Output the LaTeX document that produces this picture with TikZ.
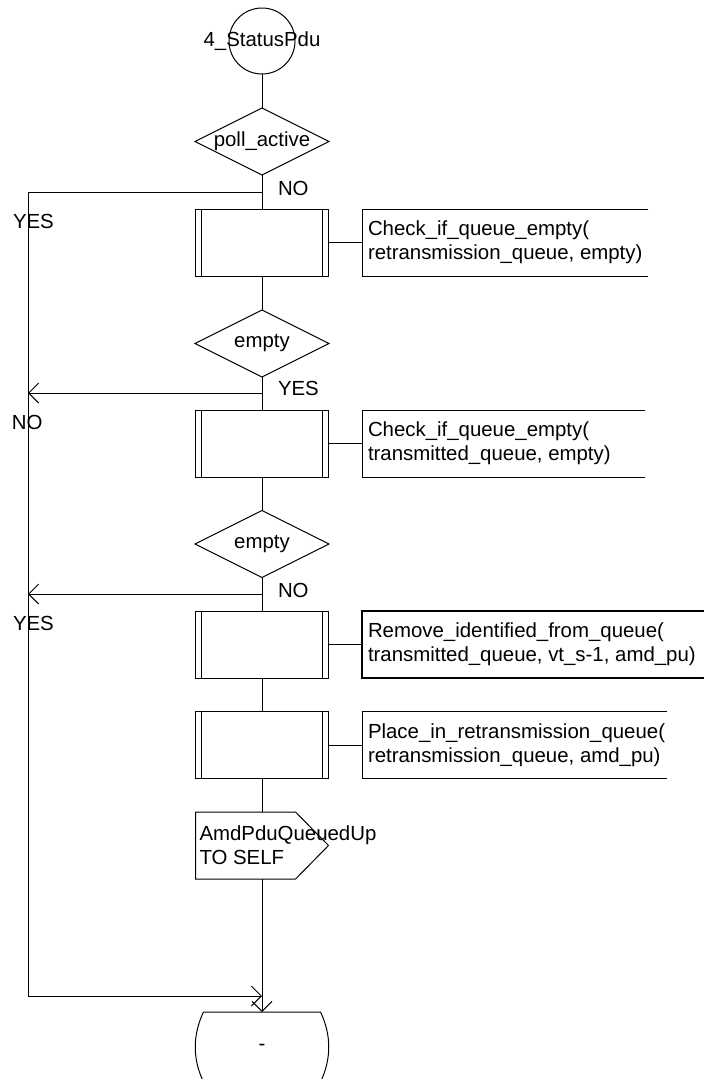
\documentclass[tikz,border=0pt]{standalone}
\usepackage{fontspec}
\setmainfont{Liberation Sans}
\usetikzlibrary{shapes.geometric,arrows.meta}
\begin{document}
\begin{tikzpicture}[x=1pt,y=-1pt,
  every node/.style={font=\fontsize{20.4}{24}\selectfont, inner sep=0pt, outer sep=0pt},
  ln/.style={draw=black, line width=1pt},
  proc/.style={ln, rectangle, minimum width=133pt, minimum height=67pt},
  dec/.style={ln, diamond, minimum width=134pt, minimum height=67pt},
  cmt/.style={anchor=west, align=left, inner xsep=6pt, minimum height=67pt},
  tip/.style={-{Straight Barb[length=10pt,width=20pt]}},
  lbl/.style={anchor=base west},
]
\clip (0,0) rectangle (704,1079);

% main column nodes
\node[ln, circle, minimum size=66pt, label=center:{4\_StatusPdu}] (start) at (262,41) {};
\node[dec, label=center:{poll\_active}] (d1) at (262,141.5) {};
\node[proc] (p1) at (262,242.5) {};
\node[dec, label=center:{empty}] (d2) at (262,343.5) {};
\node[proc] (p2) at (262,443.5) {};
\node[dec, label=center:{empty}] (d3) at (262,544) {};
\node[proc] (p3) at (262,644.5) {};
\node[proc] (p4) at (262,745) {};
\node[minimum width=133pt, minimum height=67pt,
      label={[anchor=west,xshift=4pt,align=left]west:{AmdPduQueuedUp\\TO SELF}}] (sig) at (262,845.5) {};
\node[minimum width=133pt, minimum height=70pt] (term) at (262,1047) {-};

% inner lines of procedure boxes
\foreach \n in {p1,p2,p3,p4}{
  \draw[ln] ([xshift=6pt]\n.north west) -- ([xshift=6pt]\n.south west);
  \draw[ln] ([xshift=-6pt]\n.north east) -- ([xshift=-6pt]\n.south east);
}

% output signal shape
\draw[ln] (sig.north west) -- ([xshift=-33pt]sig.north east) -- (sig.east)
  -- ([xshift=-33pt]sig.south east) -- (sig.south west) -- cycle;

% terminal (state) shape
\draw[ln] ([xshift=8pt]term.north west) -- ([xshift=-8pt]term.north east)
  .. controls ([shift={(3,23)}]term.north east) and ([shift={(3,-23)}]term.south east) .. ([xshift=-8pt]term.south east)
  -- ([xshift=8pt]term.south west)
  .. controls ([shift={(-3,-23)}]term.south west) and ([shift={(-3,23)}]term.north west) .. ([xshift=8pt]term.north west);

% comments
\node[cmt] (c1) at (362,242.5) {Check\_if\_queue\_empty(\\retransmission\_queue, empty)};
\node[cmt] (c2) at (362,443.5) {Check\_if\_queue\_empty(\\transmitted\_queue, empty)};
\node[cmt] (c3) at (362,644.5) {Remove\_identified\_from\_queue(\\transmitted\_queue, vt\_s-1, amd\_pu)};
\node[cmt] (c4) at (362,745) {Place\_in\_retransmission\_queue(\\retransmission\_queue, amd\_pu)};

\draw[ln] ([xshift=286pt]c1.north west) -- (c1.north west) -- (c1.south west) -- ([xshift=286pt]c1.south west);
\draw[ln] ([xshift=283pt]c2.north west) -- (c2.north west) -- (c2.south west) -- ([xshift=283pt]c2.south west);
\draw[ln, line width=2pt] ([xshift=342pt]c3.north west) -- (c3.north west) -- (c3.south west) -- ([xshift=342pt]c3.south west);
\draw[ln] ([xshift=305pt]c4.north west) -- (c4.north west) -- (c4.south west) -- ([xshift=305pt]c4.south west);

\draw[ln] (p1.east) -- (c1.west);
\draw[ln] (p2.east) -- (c2.west);
\draw[ln] (p3.east) -- (c3.west);
\draw[ln] (p4.east) -- (c4.west);

% main flow
\draw[ln] (start.south) -- (d1.north);
\draw[ln] (d1.south) -- (p1.north);
\draw[ln] (p1.south) -- (d2.north);
\draw[ln] (d2.south) -- (p2.north);
\draw[ln] (p2.south) -- (d3.north);
\draw[ln] (d3.south) -- (p3.north);
\draw[ln] (p3.south) -- (p4.north);
\draw[ln] (p4.south) -- (sig.north);
\draw[ln,tip] (sig.south) -- (term.north);

% branches
\coordinate (j1) at (262,192); \coordinate (l1) at (28,192);
\coordinate (j2) at (262,393); \coordinate (l2) at (28,393);
\coordinate (j3) at (262,594); \coordinate (l3) at (28,594);
\coordinate (l4) at (28,996);  \coordinate (j4) at (262,996);
\draw[ln] (j1) -- (l1) -- (l4);
\draw[ln,tip] (l4) -- (j4);
\draw[ln,tip] (j2) -- (l2);
\draw[ln,tip] (j3) -- (l3);

% branch labels
\node[lbl] (n1) at (278,195) {NO};
\node[lbl] (y1) at (13,228) {YES};
\node[lbl] (y2) at (278,395) {YES};
\node[lbl] (n2) at (12,429) {NO};
\node[lbl] (n3) at (278,597) {NO};
\node[lbl] (y3) at (13,630) {YES};
\end{tikzpicture}
\end{document}
